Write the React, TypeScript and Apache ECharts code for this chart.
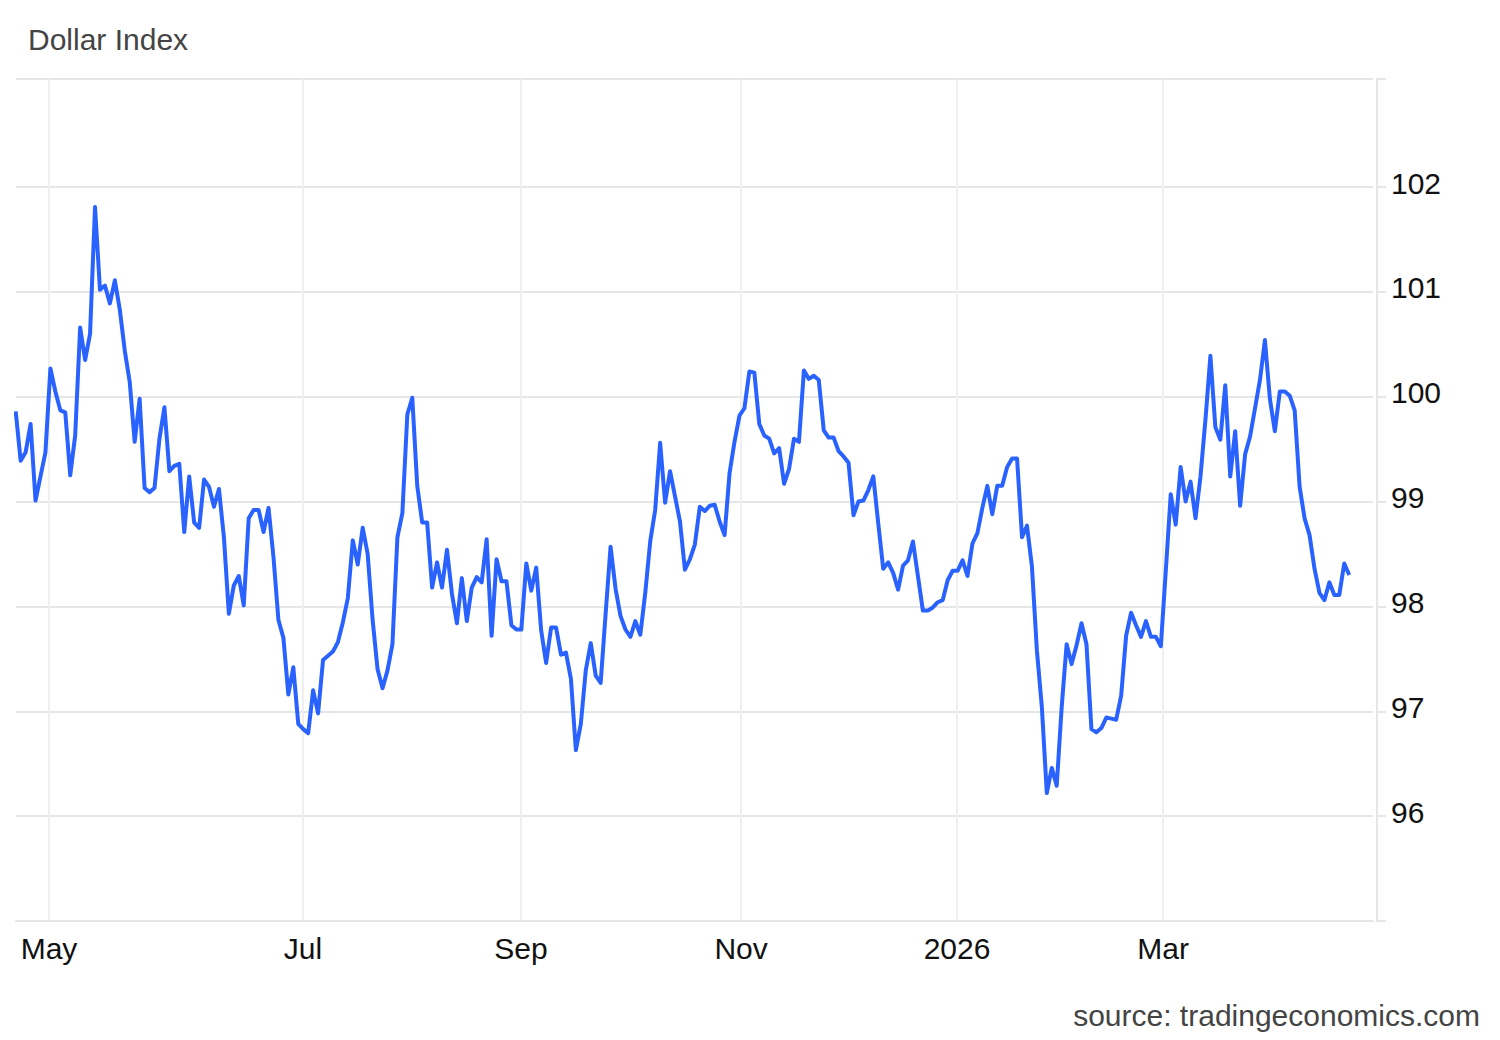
import { useEffect, useRef } from "react"
import * as echarts from "echarts"

// closes, one per trading day
const closes = [
  99.86, 99.39, 99.47, 99.74, 99.01, 99.24, 99.47, 100.27, 100.05, 99.87,
  99.85, 99.25, 99.63, 100.66, 100.35, 100.6, 101.81, 101.02, 101.06, 100.89,
  101.11, 100.83, 100.44, 100.14, 99.57, 99.98, 99.13, 99.09, 99.13, 99.6,
  99.9, 99.29, 99.34, 99.36, 98.71, 99.24, 98.8, 98.75, 99.21, 99.14,
  98.95, 99.12, 98.66, 97.93, 98.2, 98.29, 98.01, 98.84, 98.92, 98.92,
  98.71, 98.94, 98.47, 97.87, 97.7, 97.16, 97.42, 96.88, 96.83, 96.79,
  97.2, 96.98, 97.49, 97.53, 97.57, 97.66, 97.85, 98.08, 98.63, 98.4,
  98.75, 98.5, 97.87, 97.4, 97.22, 97.39, 97.64, 98.66, 98.89, 99.83,
  99.99, 99.15, 98.8, 98.8, 98.18, 98.42, 98.18, 98.54, 98.12, 97.84,
  98.27, 97.86, 98.18, 98.28, 98.23, 98.64, 97.72, 98.45, 98.24, 98.24,
  97.82, 97.78, 97.78, 98.41, 98.15, 98.37, 97.77, 97.46, 97.8, 97.8,
  97.54, 97.56, 97.31, 96.63, 96.88, 97.39, 97.65, 97.34, 97.27, 97.93,
  98.57, 98.17, 97.91, 97.78, 97.71, 97.86, 97.73, 98.13, 98.62, 98.92,
  99.56, 98.99, 99.29, 99.05, 98.81, 98.35, 98.45, 98.59, 98.95, 98.91,
  98.96, 98.97, 98.81, 98.68, 99.27, 99.57, 99.82, 99.89, 100.24, 100.23,
  99.74, 99.63, 99.6, 99.46, 99.51, 99.17, 99.31, 99.6, 99.57, 100.25,
  100.17, 100.2, 100.16, 99.68, 99.61, 99.61, 99.48, 99.43, 99.37, 98.87,
  99.0, 99.01, 99.11, 99.24, 98.79, 98.36, 98.42, 98.32, 98.16, 98.39,
  98.44, 98.62, 98.29, 97.96, 97.96, 97.99, 98.04, 98.06, 98.25, 98.34,
  98.34, 98.44, 98.29, 98.6, 98.7, 98.94, 99.15, 98.88, 99.15, 99.15,
  99.33, 99.41, 99.41, 98.66, 98.77, 98.38, 97.58, 97.04, 96.22, 96.46,
  96.29, 97.04, 97.64, 97.45, 97.63, 97.84, 97.64, 96.83, 96.8, 96.84,
  96.94, 96.93, 96.92, 97.15, 97.72, 97.94, 97.82, 97.71, 97.86, 97.71,
  97.71, 97.62, 98.34, 99.07, 98.78, 99.33, 99.0, 99.19, 98.84, 99.24,
  99.78, 100.39, 99.71, 99.59, 100.11, 99.24, 99.67, 98.96, 99.45, 99.62,
  99.89, 100.16, 100.54, 99.98, 99.67, 100.05, 100.05, 100.01, 99.87, 99.14,
  98.84, 98.68, 98.36, 98.13, 98.06, 98.23, 98.11, 98.11, 98.41, 98.3,
]

// month starts, in trading days counted from the first close
const monthLabels = ["May", "Jul", "Sep", "Nov", "2026", "Mar"]
const monthTicks = [6.72, 57.96, 101.94, 146.32, 189.89, 231.45]

const priceLabels = [96, 97, 98, 99, 100, 101, 102]
const priceMin = 95
const priceMax = 103.03

const FONT = '"Liberation Sans", Arial, sans-serif'

export default function App() {
  const chartRef = useRef<HTMLDivElement>(null)

  useEffect(() => {
    if (!chartRef.current) return
    const chart = echarts.init(chartRef.current, undefined, { renderer: "svg" })

    const option: echarts.EChartsOption = {
      animation: false,
      backgroundColor: "#ffffff",
      title: [
        {
          text: "Dollar Index",
          left: 23,
          top: 19,
          textStyle: { fontFamily: FONT, fontSize: 30, fontWeight: "normal", color: "#444444" },
        },
        {
          text: "source: tradingeconomics.com",
          right: 15,
          top: 995,
          textStyle: { fontFamily: FONT, fontSize: 30, fontWeight: "normal", color: "#444444" },
        },
      ],
      grid: { left: 16, top: 79, width: 1357, height: 842 },
      xAxis: {
        type: "value",
        min: 0.06,
        max: 273.8,
        axisLine: { show: true, onZero: false, lineStyle: { color: "#e6e6e6", width: 2 } },
        axisTick: { show: false, customValues: monthTicks },
        splitLine: { show: true, lineStyle: { color: "#f0f0f0", width: 2 } },
        axisLabel: {
          customValues: monthTicks,
          margin: 12,
          fontFamily: FONT,
          fontSize: 30,
          color: "#111111",
          formatter: (value: number) => monthLabels[monthTicks.indexOf(value)] ?? "",
        },
      },
      yAxis: {
        type: "value",
        position: "right",
        offset: 4,
        min: priceMin,
        max: priceMax,
        axisLine: { show: true, onZero: false, lineStyle: { color: "#e6e6e6", width: 2 } },
        axisTick: {
          show: true,
          length: 9,
          customValues: [priceMin, ...priceLabels, priceMax],
          lineStyle: { color: "#e6e6e6", width: 2 },
        },
        splitLine: { show: true, lineStyle: { color: "#e6e6e6", width: 2 } },
        axisLabel: {
          customValues: priceLabels,
          margin: 14,
          // sits a little above its grid line
          verticalAlign: "bottom",
          lineHeight: 8,
          fontFamily: FONT,
          fontSize: 30,
          color: "#111111",
        },
      },
      series: [
        {
          type: "line",
          data: closes.map((v, i) => [i, v]),
          symbol: "none",
          lineStyle: { color: "#2962ff", width: 4, join: "round" },
        },
      ],
    }

    chart.setOption(option)
    return () => chart.dispose()
  }, [])

  return <div ref={chartRef} style={{ position: "absolute", left: 0, top: 0, width: 1500, height: 1040 }} />
}
